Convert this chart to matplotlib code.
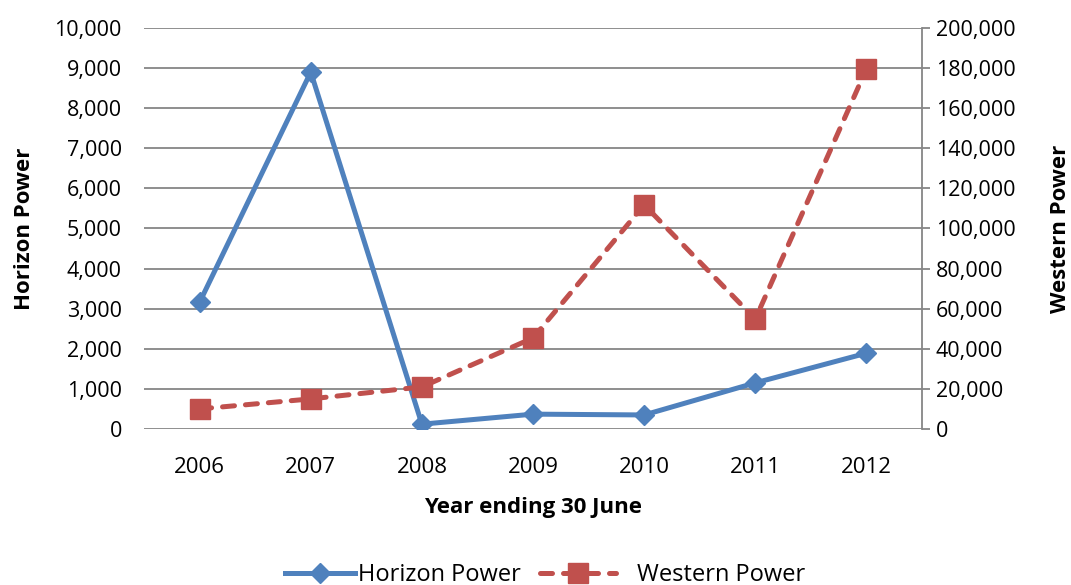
import matplotlib
matplotlib.use("Agg")
import matplotlib.pyplot as plt
from matplotlib.ticker import FuncFormatter, MultipleLocator

years = ["2006", "2007", "2008", "2009", "2010", "2011", "2012"]
horizon_power = [3160, 8900, 120, 370, 350, 1150, 1890]
western_power = [10000, 15000, 21000, 45400, 111800, 54800, 179600]

plt.rcParams["font.family"] = ["Open Sans", "DejaVu Sans"]

blue = "#4F81BD"
red = "#C0504D"
grid_grey = "#868686"

fig = plt.figure(figsize=(10.71, 5.85), dpi=100)
ax = fig.add_axes([0.1345, 0.2667, 0.7264, 0.6855])
ax2 = ax.twinx()

x = range(len(years))
ax.plot(x, horizon_power, color=blue, lw=3.6, marker="D", ms=10,
        label="Horizon Power", zorder=3)
ax2.plot(x, western_power, color=red, lw=3.6, ls=(0, (2.4, 2.2)),
         dash_capstyle="round", marker="s", ms=14, label="Western Power",
         zorder=3)

ax.set_xlim(-0.5, len(years) - 0.5)
ax.set_ylim(0, 10000)
ax2.set_ylim(0, 200000)
ax.yaxis.set_major_locator(MultipleLocator(1000))
ax2.yaxis.set_major_locator(MultipleLocator(20000))
fmt = FuncFormatter(lambda v, _: f"{int(v):,}")
ax.yaxis.set_major_formatter(fmt)
ax2.yaxis.set_major_formatter(fmt)

ax.set_xticks(list(x))
ax.set_xticklabels(years)
ax.grid(axis="y", color=grid_grey, lw=1.3)
ax.set_axisbelow(True)

for a in (ax, ax2):
    for s in a.spines.values():
        s.set_visible(False)
ax2.spines["right"].set_visible(True)
ax2.spines["right"].set_color(grid_grey)
ax2.spines["right"].set_linewidth(1.3)

ax.tick_params(axis="x", length=0, labelsize=16, pad=20)
ax.tick_params(axis="y", length=0, labelsize=15.5, pad=16)
ax2.tick_params(axis="y", length=6, width=1.3, color=grid_grey,
                labelsize=15.5, pad=4)

ax.set_xlabel("Year ending 30 June", fontsize=16, fontweight="bold", labelpad=14)
ax.set_ylabel("Horizon Power", fontsize=16, fontweight="bold", labelpad=14)
ax2.set_ylabel("Western Power", fontsize=16, fontweight="bold", labelpad=25)

# one legend per series so each handle gets its own text gap
h1, l1 = ax.get_legend_handles_labels()
h2, l2 = ax2.get_legend_handles_labels()
fig.legend(h1, l1, loc="center", bbox_to_anchor=(0.376, 0.017),
           frameon=False, fontsize=17, handlelength=3.0, handletextpad=0.1)
fig.legend(h2, l2, loc="center", bbox_to_anchor=(0.628, 0.017),
           frameon=False, fontsize=17, handlelength=3.2, handletextpad=0.9)

fig.savefig("out.png", dpi=100)
